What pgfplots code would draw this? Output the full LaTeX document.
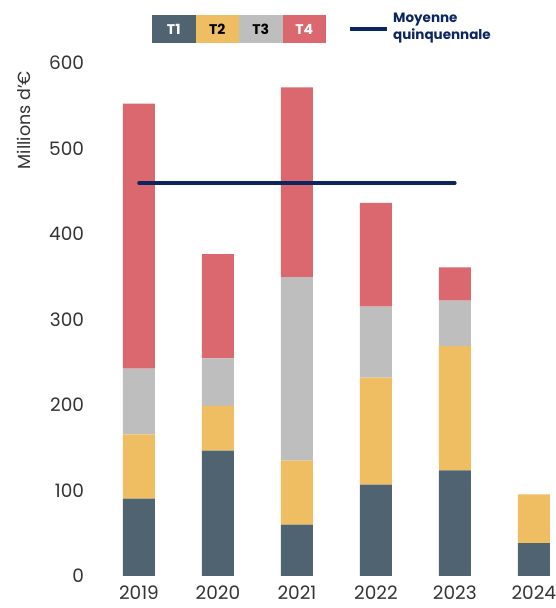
\documentclass[border=0pt]{standalone}
\usepackage{pgfplots}
\pgfplotsset{compat=1.18}
\usepackage{fontspec}
\setmainfont{Poppins}
\definecolor{cT1}{HTML}{4F6470}
\definecolor{cT2}{HTML}{F0BE62}
\definecolor{cT3}{HTML}{BEBEBE}
\definecolor{cT4}{HTML}{DB686E}
\definecolor{navy}{HTML}{0B2560}
\definecolor{txt}{HTML}{333333}
\pgfplotsset{common/.style={
  at={(91.6pt,32pt)}, anchor=south west,
  scale only axis, width=462pt, height=513pt,
  xmin=-0.6, xmax=5.25, ymin=0, ymax=600,
  axis line style={draw=none},
  major tick length=0pt,
  clip=false,
}}
\begin{document}
\begin{tikzpicture}[x=1pt,y=1pt]
\begin{axis}[
  common,
  ybar stacked, bar width=32pt,
  xtick={0,1,2,3,4,5},
  xticklabels={2019,2020,2021,2022,2023,2024},
  ytick={0,100,200,300,400,500,600},
  /pgf/number format/assume math mode=true,
  tick label style={font=\fontsize{18.5}{20}\selectfont, text=txt},
  yticklabel style={xshift=-4pt},
  xticklabel style={yshift=-9pt, inner sep=1pt},
]
\addplot[fill=cT1, draw=none] coordinates {(0,90.5) (1,146.5) (2,60) (3,107) (4,123.5) (5,38.5)};
\addplot[fill=cT2, draw=none] coordinates {(0,75) (1,52.5) (2,75) (3,125) (4,145.5) (5,57)};
\addplot[fill=cT3, draw=none] coordinates {(0,77) (1,55.5) (2,214.5) (3,83) (4,53) (5,0)};
\addplot[fill=cT4, draw=none] coordinates {(0,310) (1,122) (2,222) (3,121.5) (4,39) (5,0)};
\end{axis}
\begin{axis}[common, xtick=\empty, ytick=\empty]
\addplot[sharp plot, navy, line width=3.5pt, line cap=round] coordinates {(0,459.4) (4,459.4)};
\end{axis}
\node[rotate=90, font=\fontsize{17.5}{20}\selectfont, text=txt] at (24,488) {Millions d'€};
% legend
\fill[cT1] (152,565) rectangle (195.5,593);
\fill[cT2] (195.5,565) rectangle (239,593);
\fill[cT3] (239,565) rectangle (282.5,593);
\fill[cT4] (282.5,565) rectangle (326,593);
\node[font=\bfseries\fontsize{14}{16}\selectfont, text=white] at (173.75,579) {T1};
\node[font=\bfseries\fontsize{14}{16}\selectfont, text=black] at (217.25,579) {T2};
\node[font=\bfseries\fontsize{14}{16}\selectfont, text=black] at (260.75,579) {T3};
\node[font=\bfseries\fontsize{14}{16}\selectfont, text=white] at (304.25,579) {T4};
\draw[navy, line width=4pt] (350,579) -- (387,579);
\node[anchor=west, align=left, font=\bfseries\fontsize{13.5}{17}\selectfont, text=navy, inner sep=0pt] at (393,580) {Moyenne\\quinquennale};
\pgfresetboundingbox
\path (0,0) rectangle (556,608);
\end{tikzpicture}
\end{document}
